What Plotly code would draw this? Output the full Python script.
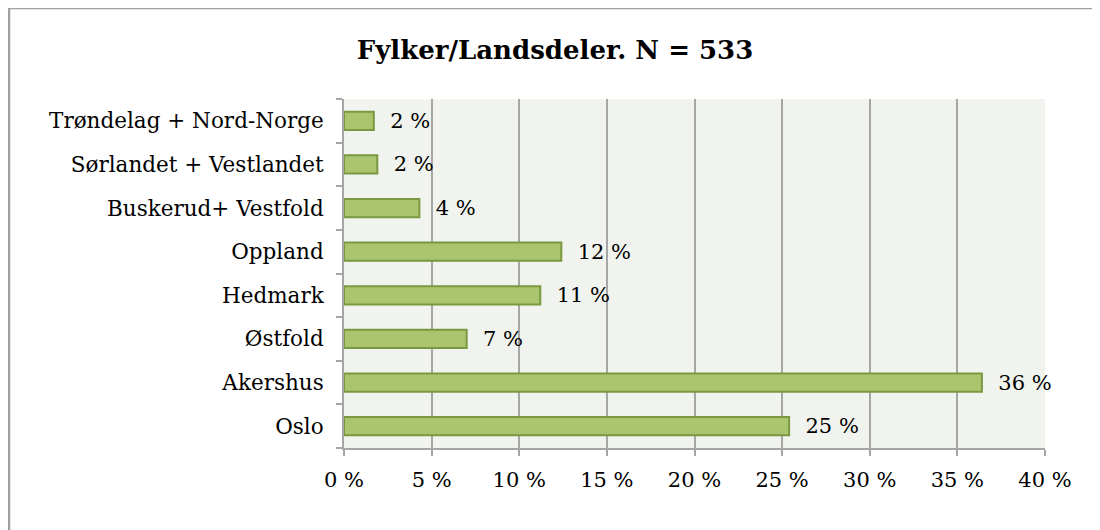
import plotly.graph_objects as go

categories = ["Oslo", "Akershus", "Østfold", "Hedmark", "Oppland",
              "Buskerud+ Vestfold", "Sørlandet + Vestlandet", "Trøndelag + Nord-Norge"]
values = [25.4, 36.4, 7.0, 11.2, 12.4, 4.3, 1.9, 1.7]
value_labels = ["25 %", "36 %", "7 %", "11 %", "12 %", "4 %", "2 %", "2 %"]
x_tickvals = [0, 5, 10, 15, 20, 25, 30, 35, 40]
x_ticktext = ["0 %", "5 %", "10 %", "15 %", "20 %", "25 %", "30 %", "35 %", "40 %"]
title_text = "Fylker/Landsdeler. N = 533"

FONT = "DejaVu Serif"
OFF = 8  # page body margin
W, H = 1100 - OFF, 530 - OFF
L, T = 344 - OFF, 99 - OFF
R = W - (1045 - OFF)
B = H - (448 - OFF)
pw, ph = W - L - R, H - T - B

fig = go.Figure()
fig.add_trace(go.Bar(
    y=categories, x=values, orientation="h",
    marker=dict(color="#AAC56E", line=dict(color="#7A9840", width=2)),
    width=0.42,
    text=value_labels, textposition="outside",
    texttemplate="  %{text}",
    textfont=dict(family=FONT, size=21, color="#000000"),
    constraintext="none",
    cliponaxis=False,
    hoverinfo="skip",
))

fig.update_layout(
    width=W, height=H,
    margin=dict(l=L, r=R, t=T, b=B, autoexpand=False),
    paper_bgcolor="#FFFFFF",
    plot_bgcolor="#F1F4EE",
    showlegend=False,
    title=dict(text="<b>" + title_text + "</b>", x=(555 - OFF) / W, xanchor="center",
               y=1 - (50 - OFF) / H, yanchor="middle", yref="container",
               font=dict(family=FONT, size=26, color="#000000")),
    font=dict(family=FONT, size=21, color="#000000"),
)
fig.update_xaxes(
    range=[0, 40], tickvals=x_tickvals, ticktext=x_ticktext,
    showgrid=True, gridcolor="#A6A6A6", gridwidth=1.5,
    showline=True, linecolor="#A6A6A6", linewidth=2,
    ticks="outside", ticklen=6, tickcolor="#A6A6A6", tickwidth=2,
    tickfont=dict(family=FONT, size=21, color="#000000"),
    zeroline=False, fixedrange=True, ticklabelstandoff=6,
)
fig.update_yaxes(
    categoryorder="array", categoryarray=categories,
    showgrid=False,
    showline=True, linecolor="#A6A6A6", linewidth=2,
    ticks="outside", ticklen=6, tickcolor="#A6A6A6", tickwidth=2,
    tickson="boundaries",
    tickfont=dict(family=FONT, size=21.5, color="#000000"),
    fixedrange=True, ticklabelstandoff=14,
)

# outer chart border (top and left edges visible)
bx = (9 - OFF - L) / pw
by = (H - B - (8 - OFF)) / ph
fig.add_shape(type="line", xref="paper", yref="paper",
              x0=bx, y0=by, x1=(W - L) / pw, y1=by,
              line=dict(color="#A0A0A0", width=2.5))
fig.add_shape(type="line", xref="paper", yref="paper",
              x0=bx, y0=by, x1=bx, y1=-B / ph,
              line=dict(color="#A0A0A0", width=2.5))

fig.write_html("out.html")
